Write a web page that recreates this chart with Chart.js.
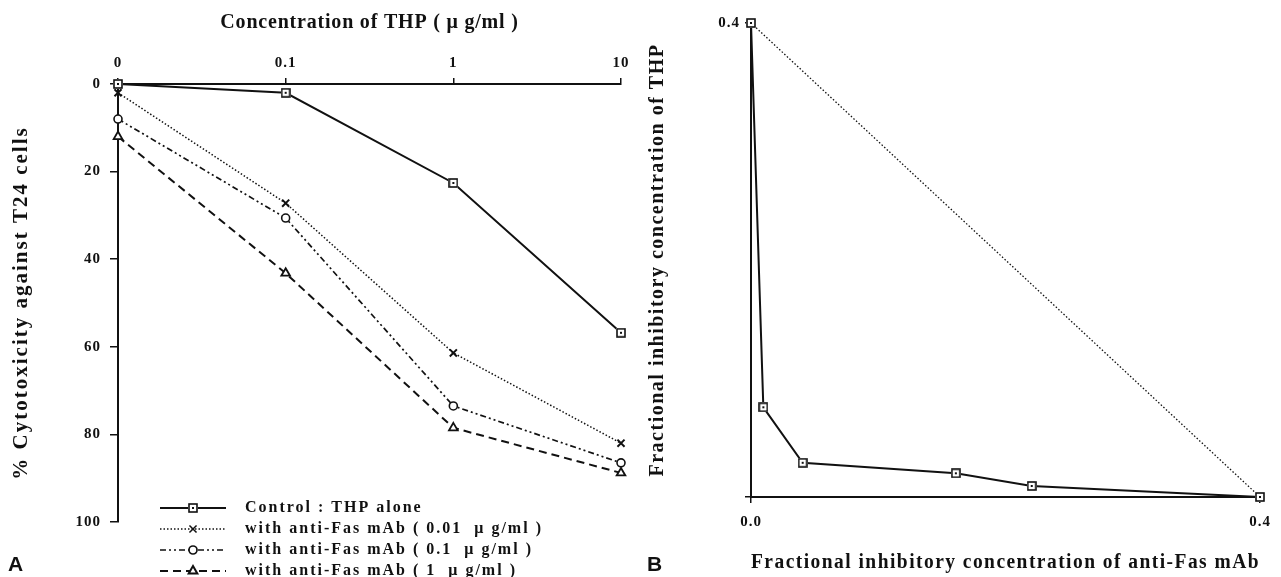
<!DOCTYPE html>
<html><head><meta charset="utf-8">
<script src="https://cdn.jsdelivr.net/npm/chart.js@4.4.0/dist/chart.umd.min.js"></script>
<style>
html,body{margin:0;padding:0;background:#fff;width:1281px;height:577px;overflow:hidden;}
#wrapA{position:absolute;left:0;top:0;width:640px;height:577px;}
#wrapB{position:absolute;left:640px;top:0;width:641px;height:577px;}
.lbl{position:absolute;font-family:"Liberation Sans",Arial,sans-serif;font-weight:bold;font-size:21px;color:#111;}
</style></head><body>
<div id="wrapA"><canvas id="cA" width="640" height="577"></canvas></div>
<div id="wrapB"><canvas id="cB" width="641" height="577"></canvas></div>
<div class="lbl" style="left:8px;top:552px">A</div>
<div class="lbl" style="left:647px;top:552px">B</div>
<script>
// ---------- DATA (panel A) ----------
const thpConc = [0, 0.1, 1, 10];              // µg/ml, 0 plotted at the first decade position
const thpTickLabels = ['0', '0.1', '1', '10'];
const controlTHP = [0, 2, 22.6, 56.8];
const withFas001 = [2, 27.2, 61.4, 82];
const withFas01 = [8, 30.6, 73.5, 86.5];
const withFas1 = [12, 43.2, 78.5, 88.8];
const cytoTicks = [0, 20, 40, 60, 80, 100];
const seriesNamesA = [
  'Control : THP alone',
  'with anti-Fas mAb ( 0.01  \u03bc g/ml )',
  'with anti-Fas mAb ( 0.1  \u03bc g/ml )',
  'with anti-Fas mAb ( 1  \u03bc g/ml )'
];
// ---------- DATA (panel B) ----------
const ficFas = [0, 0.0097, 0.0406, 0.161, 0.2206, 0.4];
const ficTHP = [0.4, 0.0757, 0.0289, 0.020, 0.0093, 0];
const additiveFas = [0, 0.4];
const additiveTHP = [0.4, 0];
const ficTicksX = [0, 0.4];
const ficTicksY = [0, 0.4];

const ZERO_POS = 0.01;
const SERIF = '"Liberation Serif","Times New Roman",serif';
const BLACK = '#111';

function squareDot(size) {
  const c = document.createElement('canvas');
  c.width = size; c.height = size;
  const g = c.getContext('2d');
  g.fillStyle = '#fff'; g.fillRect(0, 0, size, size);
  g.strokeStyle = BLACK; g.lineWidth = 1.6;
  g.strokeRect(1, 1, size - 2, size - 2);
  g.fillStyle = BLACK; g.fillRect(size / 2 - 1, size / 2 - 1, 2, 2);
  return c;
}
const SQ = squareDot(10);

const toXY = (xs, ys) => xs.map((x, i) => ({ x: x === 0 ? ZERO_POS : x, y: ys[i] }));
const toXYlin = (xs, ys) => xs.map((x, i) => ({ x: x, y: ys[i] }));

// letter spacing for scale titles / tick labels (canvas letterSpacing)
const spacingPlugin = {
  id: 'spacing',
  beforeDraw(chart, args, opts) {
    const cfgAll = opts.scales || {};
    Object.values(chart.scales).forEach(s => {
      if (s._lsWrapped) return;
      s._lsWrapped = true;
      const cfg = cfgAll[s.id] || {};
      const dt = s.drawTitle, dl = s.drawLabels;
      s.drawTitle = function (...a) {
        const c = this.ctx, o = c.letterSpacing;
        c.letterSpacing = (cfg.title || 0) + 'px'; dt.apply(this, a); c.letterSpacing = o;
      };
      s.drawLabels = function (...a) {
        const c = this.ctx, o = c.letterSpacing;
        c.letterSpacing = (cfg.ticks || 0) + 'px'; dl.apply(this, a); c.letterSpacing = o;
      };
    });
  }
};

const dsA = [
  { label: seriesNamesA[0], data: toXY(thpConc, controlTHP), borderColor: BLACK, borderWidth: 2,
    pointStyle: SQ, pointRadius: 5, clip: false },
  { label: seriesNamesA[1], data: toXY(thpConc, withFas001), borderColor: BLACK, borderWidth: 1.5, borderDash: [1.5, 2],
    pointStyle: 'crossRot', pointRadius: 5, pointBorderWidth: 2, pointBorderColor: BLACK, pointBackgroundColor: '#fff', clip: false },
  { label: seriesNamesA[2], data: toXY(thpConc, withFas01), borderColor: BLACK, borderWidth: 1.7, borderDash: [6, 3, 2, 3, 2, 3],
    pointStyle: 'circle', pointRadius: 4, pointBorderWidth: 1.6, pointBorderColor: BLACK, pointBackgroundColor: '#fff', clip: false },
  { label: seriesNamesA[3], data: toXY(thpConc, withFas1), borderColor: BLACK, borderWidth: 2, borderDash: [8, 5],
    pointStyle: 'triangle', pointRadius: 5, pointBorderWidth: 1.8, pointBorderColor: BLACK, pointBackgroundColor: '#fff', clip: false }
];

const legendPlugin = {
  id: 'lineLegend',
  afterDraw(chart) {
    const ctx = chart.ctx;
    const rows = [508, 529, 550, 571];
    const x1 = 160, x2 = 226, xm = 193, xt = 245;
    chart.data.datasets.forEach((ds, i) => {
      const y = rows[i];
      ctx.save();
      ctx.strokeStyle = ds.borderColor; ctx.lineWidth = ds.borderWidth;
      ctx.setLineDash(ds.borderDash || []);
      ctx.beginPath(); ctx.moveTo(x1, y); ctx.lineTo(x2, y); ctx.stroke();
      ctx.setLineDash([]);
      ctx.fillStyle = ds.pointBackgroundColor || '#fff';
      ctx.strokeStyle = ds.pointBorderColor || BLACK;
      Chart.helpers.drawPoint(ctx, { pointStyle: ds.pointStyle, radius: ds.pointRadius, rotation: 0,
        borderWidth: ds.pointBorderWidth || 1 }, xm, y);
      ctx.fillStyle = BLACK;
      ctx.font = 'bold 16px ' + SERIF;
      ctx.letterSpacing = '2px';
      ctx.textBaseline = 'middle'; ctx.textAlign = 'left';
      ctx.fillText(ds.label, xt, y);
      ctx.restore();
    });
  }
};

new Chart(document.getElementById('cA'), {
  type: 'line',
  data: { datasets: dsA },
  plugins: [spacingPlugin, legendPlugin],
  options: {
    responsive: false, animation: false,
    layout: { padding: { left: 0, top: 0, right: 19, bottom: 55 } },
    plugins: { legend: { display: false }, tooltip: { enabled: false },
      spacing: { scales: { x: { title: 0.8, ticks: 1 }, y: { title: 2, ticks: 1 } } } },
    scales: {
      x: {
        type: 'logarithmic', position: 'top', min: ZERO_POS, max: 10,
        afterFit: s => { s.height = 84; },
        afterBuildTicks: s => { s.ticks = [ZERO_POS, 0.1, 1, 10].map(v => ({ value: v, major: true })); },
        ticks: { color: BLACK, font: { family: SERIF, size: 15, weight: 'bold' }, padding: 6, maxRotation: 0,
          callback: (v, i) => thpTickLabels[i] },
        grid: { display: true, drawOnChartArea: false, color: BLACK, lineWidth: 1.5, tickLength: 6 },
        border: { display: true, color: BLACK, width: 2 },
        title: { display: true, text: 'Concentration of THP ( \u03bc g/ml )', color: BLACK,
          font: { family: SERIF, size: 20, weight: 'bold' }, padding: { top: 11, bottom: 0 } }
      },
      y: {
        type: 'linear', reverse: true, min: 0, max: 100,
        afterFit: s => { s.width = 118; },
        afterBuildTicks: s => { s.ticks = cytoTicks.map(v => ({ value: v })); },
        ticks: { color: BLACK, font: { family: SERIF, size: 15, weight: 'bold' }, padding: 9 },
        grid: { display: true, drawOnChartArea: false, color: BLACK, lineWidth: 1.5, tickLength: 8 },
        border: { display: true, color: BLACK, width: 2 },
        title: { display: true, text: '% Cytotoxicity against T24 cells', color: BLACK,
          font: { family: SERIF, size: 21, weight: 'bold' }, padding: { top: 9, bottom: 0 } }
      }
    }
  }
});

new Chart(document.getElementById('cB'), {
  type: 'line',
  data: {
    datasets: [
      { label: 'Isobologram', data: toXYlin(ficFas, ficTHP), borderColor: BLACK, borderWidth: 2,
        pointStyle: SQ, pointRadius: 5, clip: false },
      { label: 'Additive', data: toXYlin(additiveFas, additiveTHP), borderColor: BLACK, borderWidth: 1.3,
        borderDash: [1.5, 2], pointRadius: 0, clip: false }
    ]
  },
  plugins: [spacingPlugin],
  options: {
    responsive: false, animation: false,
    layout: { padding: { left: 0, top: 23, right: 21, bottom: 0 } },
    plugins: { legend: { display: false }, tooltip: { enabled: false },
      spacing: { scales: { x: { title: 1.5, ticks: 1 }, y: { title: 1.5, ticks: 1 } } } },
    scales: {
      x: {
        type: 'linear', position: 'bottom', min: 0, max: 0.4,
        afterFit: s => { s.height = 80; },
        afterBuildTicks: s => { s.ticks = ficTicksX.map(v => ({ value: v })); },
        ticks: { color: BLACK, font: { family: SERIF, size: 15, weight: 'bold' }, padding: 10, maxRotation: 0,
          callback: v => v.toFixed(1) },
        grid: { display: true, drawOnChartArea: false, color: BLACK, lineWidth: 1.5, tickLength: 6 },
        border: { display: true, color: BLACK, width: 2 },
        title: { display: true, text: 'Fractional inhibitory concentration of anti-Fas mAb', color: BLACK,
          font: { family: SERIF, size: 20, weight: 'bold' }, padding: { top: 0, bottom: 2 } }
      },
      y: {
        type: 'linear', min: 0, max: 0.4,
        afterFit: s => { s.width = 111; },
        afterBuildTicks: s => { s.ticks = ficTicksY.map(v => ({ value: v })); },
        ticks: { color: BLACK, font: { family: SERIF, size: 15, weight: 'bold' }, padding: 5,
          callback: v => (v === 0 ? '' : v.toFixed(1)) },
        grid: { display: true, drawOnChartArea: false, color: BLACK, lineWidth: 1.5, tickLength: 6 },
        border: { display: true, color: BLACK, width: 2 },
        title: { display: true, text: 'Fractional inhibitory concentration of THP', color: BLACK,
          font: { family: SERIF, size: 20, weight: 'bold' }, padding: { top: 6, bottom: 0 } }
      }
    }
  }
});
</script>
</body></html>
